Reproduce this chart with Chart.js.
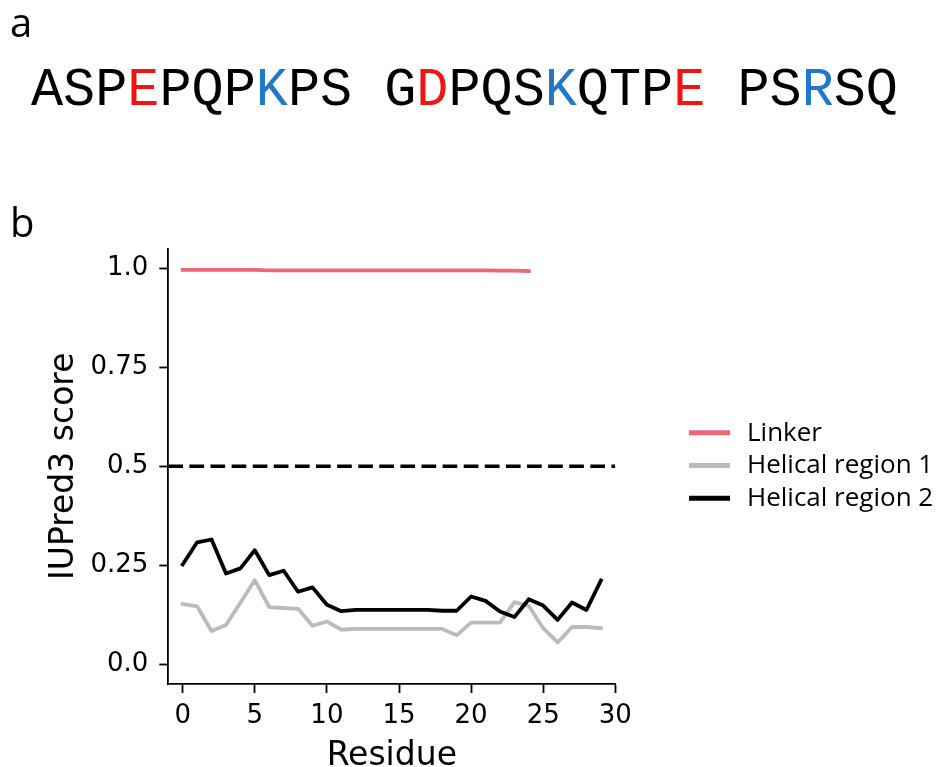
<!DOCTYPE html>
<html><head><meta charset="utf-8">
<script src="https://cdn.jsdelivr.net/npm/chart.js@4/dist/chart.umd.min.js"></script>
<style>
html,body{margin:0;padding:0;background:#fff;overflow:hidden;}
#wrap{position:relative;width:941px;height:767px;}
canvas{position:absolute;left:0;top:0;}
.panel{position:absolute;font-family:'Open Sans';font-size:40px;line-height:1;color:#000;white-space:pre;}
#seq{position:absolute;left:31px;top:63.6px;font-family:'Courier New','Nimbus Mono PS','Nimbus Mono L','FreeMono','Liberation Mono';font-size:53.5px;line-height:1;white-space:pre;color:#000;}
</style></head>
<body><div id="wrap">
<canvas id="c" width="941" height="767"></canvas>
<div class="panel" style="left:10px;top:1.5px">a</div>
<div id="seq"></div>
<div class="panel" style="left:10px;top:201.5px">b</div>
</div>
<script>
// ---- data ----
const sequence = "ASPEPQPKPS GDPQSKQTPE PSRSQ";
const acidicIdx = [3, 12, 20];   // red letters
const basicIdx = [7, 16, 24];    // blue letters

const linkerResidues = [0,1,2,3,4,5,6,7,8,9,10,11,12,13,14,15,16,17,18,19,20,21,22,23,24];
const linkerScore = [0.996,0.996,0.996,0.996,0.996,0.996,0.995,0.995,0.995,0.995,0.995,0.995,0.995,0.995,0.995,0.995,0.995,0.995,0.995,0.995,0.995,0.995,0.994,0.994,0.993];

const helixResidues = [0,1,2,3,4,5,6,7,8,9,10,11,12,13,14,15,16,17,18,19,20,21,22,23,24,25,26,27,28,29];
const helix1Score = [0.152,0.146,0.084,0.099,0.155,0.212,0.144,0.142,0.140,0.097,0.108,0.087,0.089,0.089,0.089,0.089,0.089,0.089,0.089,0.073,0.105,0.105,0.105,0.157,0.147,0.091,0.055,0.094,0.094,0.091];
const helix2Score = [0.252,0.308,0.315,0.229,0.242,0.288,0.225,0.236,0.183,0.194,0.150,0.134,0.137,0.137,0.137,0.137,0.137,0.137,0.135,0.135,0.171,0.160,0.133,0.119,0.164,0.148,0.112,0.156,0.137,0.211];

const threshold = 0.5;
const xTicks = [0,5,10,15,20,25,30];
const xTickLabels = ["0","5","10","15","20","25","30"];
const yTicks = [0,0.25,0.5,0.75,1.0];
const yTickLabels = ["0.0","0.25","0.5","0.75","1.0"];
const xRange = [-1, 30];
const yRange = [-0.05, 1.05];
const seriesNames = ["Linker","Helical region 1","Helical region 2"];
const seriesColors = ["#EE6677","#BBBBBB","#000000"];

// ---- sequence text ----
const seqEl = document.getElementById('seq');
for (let i = 0; i < sequence.length; i++) {
  const s = document.createElement('span');
  s.textContent = sequence[i];
  if (acidicIdx.includes(i)) s.style.color = '#F01414';
  else if (basicIdx.includes(i)) s.style.color = '#1F78C8';
  seqEl.appendChild(s);
}

const pts = (xs, ys) => ys.map((v, i) => ({x: xs[i], y: v}));

const lineStyle = {pointRadius:0, borderWidth:3.8, borderCapStyle:'square', borderJoinStyle:'round', tension:0, fill:false};

const legendPlugin = {
  id:'customLegend',
  afterDraw(chart){
    const ctx = chart.ctx;
    ctx.save();
    const x0 = 689, x1 = 730, tx = 747, y0 = 432.7, dy = 32.8;
    let row = 0;
    chart.data.datasets.forEach(ds => {
      if (!ds.inLegend) return;
      const y = y0 + row*dy;
      ctx.strokeStyle = ds.borderColor;
      ctx.lineWidth = 5;
      ctx.lineCap = 'butt';
      ctx.beginPath(); ctx.moveTo(x0, y); ctx.lineTo(x1, y); ctx.stroke();
      ctx.fillStyle = '#000';
      ctx.font = "26px 'Open Sans'";
      ctx.textBaseline = 'alphabetic';
      ctx.textAlign = 'left';
      ctx.fillText(ds.label, tx, y + 7.8);
      row++;
    });
    ctx.restore();
  }
};

new Chart(document.getElementById('c'), {
  type:'line',
  data:{
    datasets:[
      Object.assign({label:seriesNames[0], data:pts(linkerResidues, linkerScore), borderColor:seriesColors[0], inLegend:true, order:3}, lineStyle),
      Object.assign({label:seriesNames[1], data:pts(helixResidues, helix1Score), borderColor:seriesColors[1], inLegend:true, order:2}, lineStyle),
      Object.assign({label:seriesNames[2], data:pts(helixResidues, helix2Score), borderColor:seriesColors[2], inLegend:true, order:1}, lineStyle),
      {label:'threshold', data:[{x:xRange[0], y:threshold},{x:xRange[1], y:threshold}], borderColor:'#000', borderWidth:3.6, borderDash:[14.7,6.4], borderCapStyle:'butt', pointRadius:0, inLegend:false, order:4}
    ]
  },
  options:{
    responsive:false, animation:false, devicePixelRatio:1,
    layout:{padding:{left:0, top:248.5, right:325.7, bottom:0}},
    plugins:{legend:{display:false}, tooltip:{enabled:false}},
    scales:{
      x:{type:'linear', min:xRange[0], max:xRange[1],
        afterBuildTicks: s => { s.ticks = xTicks.map(v => ({value:v})); },
        afterFit: s => { s.height = 83; },
        ticks:{font:{family:'DejaVu Sans', size:26}, color:'#000', padding:8, maxRotation:0, autoSkip:false,
          callback: v => xTickLabels[xTicks.indexOf(v)]},
        grid:{display:true, drawOnChartArea:false, drawTicks:true, tickLength:9, tickWidth:1.8, tickColor:'#000'},
        border:{display:true, color:'#000', width:1.8},
        title:{display:true, text:'Residue', color:'#000', font:{family:'DejaVu Sans', size:33, lineHeight:1}, padding:{top:0, bottom:-5.5}}
      },
      y:{type:'linear', min:yRange[0], max:yRange[1],
        afterBuildTicks: s => { s.ticks = yTicks.map(v => ({value:v})); },
        afterFit: s => { s.width = 168.3; },
        ticks:{font:{family:'DejaVu Sans', size:26}, color:'#000', padding:11, autoSkip:false,
          callback: v => yTickLabels[yTicks.indexOf(v)]},
        grid:{display:true, drawOnChartArea:false, drawTicks:true, tickLength:9, tickWidth:1.8, tickColor:'#000'},
        border:{display:true, color:'#000', width:1.8},
        title:{display:true, text:'IUPred3 score', color:'#000', font:{family:'DejaVu Sans', size:33, lineHeight:1}, padding:{top:48, bottom:0}}
      }
    }
  },
  plugins:[legendPlugin]
});
</script>
</body></html>
